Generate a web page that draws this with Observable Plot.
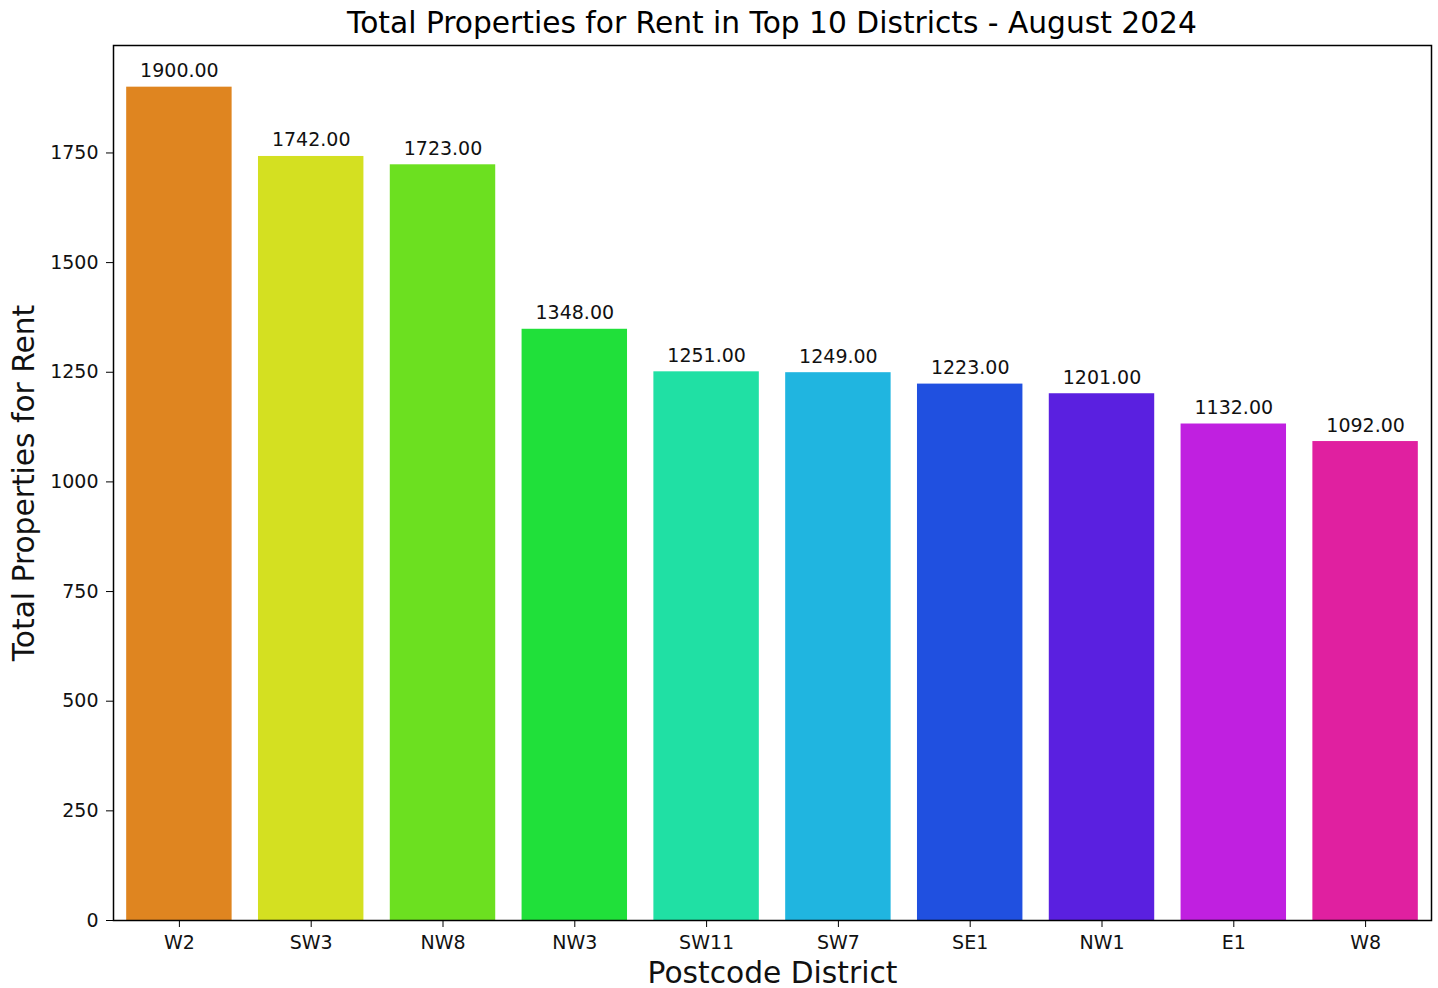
<!DOCTYPE html>
<html>
<head>
<meta charset="utf-8">
<script src="https://cdn.jsdelivr.net/npm/d3@7"></script>
<script src="https://cdn.jsdelivr.net/npm/@observablehq/plot@0.6"></script>
<style>
  body { margin: 0; background: #fff; font-family: "DejaVu Sans", sans-serif; }
  #wrap { width: 1438px; position: relative; }
  #title { height: 44px; width: 1438px; position: relative; }
  #title span { position: absolute; left: 772px; top: 5px; transform: translateX(-50%); font-size: 29.7px; white-space: nowrap; color: #000; }
</style>
</head>
<body>
<div id="wrap">
  <div id="title"><span>Total Properties for Rent in Top 10 Districts - August 2024</span></div>
  <div id="chart"></div>
</div>
<script>
const districts = ["W2", "SW3", "NW8", "NW3", "SW11", "SW7", "SE1", "NW1", "E1", "W8"];
const totals = [1900, 1742, 1723, 1348, 1251, 1249, 1223, 1201, 1132, 1092];
const colors = ["#DF8520", "#D4E021", "#6CE020", "#20E03A", "#20E0A4", "#20B5E0", "#2050E0", "#5A20E0", "#C020E0", "#E020A0"];
const yTicks = [0, 250, 500, 750, 1000, 1250, 1500, 1750];
const xLabel = "Postcode District";
const yLabel = "Total Properties for Rent";

const data = districts.map((d, i) => ({district: d, total: totals[i]}));
const fmt = d3.format(".2f");

const chart = Plot.plot({
  width: 1438,
  height: 944,
  marginTop: 1,
  marginBottom: 68,
  marginLeft: 113,
  marginRight: 7,
  style: {fontFamily: "DejaVu Sans, sans-serif", overflow: "visible", background: "#fff"},
  x: {domain: districts, paddingInner: 0.2, paddingOuter: 0.1, align: 0.5, round: false, label: null},
  y: {domain: [0, 1995], label: null},
  color: {domain: districts, range: colors},
  marks: [
    Plot.barY(data, {x: "district", y: "total", fill: "district"}),
    Plot.text(data, {x: "district", y: "total", text: d => fmt(d.total), lineAnchor: "bottom", dy: -10, fontSize: 19, fill: "#111"}),
    Plot.axisX({tickSize: 7, tickPadding: 8, fontSize: 19, label: null, stroke: "#000", color: "#111"}),
    Plot.axisY({ticks: yTicks, tickSize: 7, tickPadding: 8, fontSize: 19, label: null, tickFormat: d3.format("d"), stroke: "#000", color: "#111"}),
    Plot.text([xLabel], {frameAnchor: "bottom", dy: 53, lineAnchor: "middle", fontSize: 29.7, fill: "#111"}),
    Plot.text([yLabel], {frameAnchor: "left", dx: -89, rotate: -90, textAnchor: "middle", lineAnchor: "middle", fontSize: 29.7, fill: "#111"}),
    Plot.frame({stroke: "#000", strokeWidth: 1.5})
  ]
});
document.getElementById("chart").appendChild(chart);
</script>
</body>
</html>
